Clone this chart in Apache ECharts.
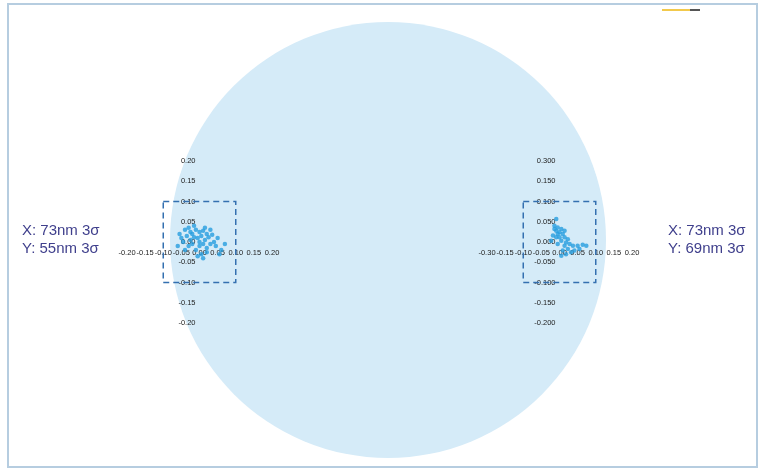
<!DOCTYPE html>
<html>
<head>
<meta charset="utf-8">
<script src="https://cdn.jsdelivr.net/npm/echarts@6/dist/echarts.min.js"></script>
<style>html,body{margin:0;padding:0;background:#fff;}#c{width:765px;height:475px;}</style>
</head>
<body>
<div id="c"></div>
<script>
// ---- data ----
var leftXTicks = ['-0.20','-0.15','-0.10','-0.05','0.00','0.05','0.10','0.15','0.20'];
var leftYTicks = ['-0.20','-0.15','-0.10','-0.05','0.00','0.05','0.10','0.15','0.20'];
var rightXTicks = ['-0.30','-0.15','-0.10','-0.05','0.00','0.05','0.10','0.15','0.20'];
var rightYTicks = ['-0.200','-0.150','-0.100','-0.050','0.000','0.050','0.100','0.150','0.300'];
var leftPoints = [
  [-0.04,0.03],[-0.03,0.035],[-0.02,0.02],[-0.01,0.03],[0.0,0.025],[0.01,0.028],[0.02,0.02],
  [-0.05,0.01],[-0.045,0.0],[-0.035,0.015],[-0.025,0.005],[-0.015,0.012],[-0.005,0.01],
  [0.005,0.015],[0.015,0.005],[0.025,0.012],[0.035,0.018],[0.05,0.01],[0.03,-0.005],
  [0.045,-0.01],[0.06,-0.02],[0.02,-0.015],[0.0,-0.01],[-0.01,-0.02],[0.005,-0.03],
  [-0.005,-0.035],[0.01,-0.04],[-0.02,-0.005],[-0.03,-0.01],[-0.06,-0.01],[-0.055,0.02],
  [0.015,0.035],[-0.015,0.04],[0.0,0.0],[0.01,-0.005],[-0.04,-0.02],[0.03,0.03],
  [0.04,0.0],[0.07,-0.005],[-0.025,0.025],[0.02,-0.025],[0.055,-0.03]
];
var rightPoints = [
  [-0.009,0.057],[-0.014,0.040],[-0.005,0.036],[0.005,0.032],[-0.009,0.028],[0.0,0.024],
  [0.009,0.020],[-0.018,0.016],[-0.009,0.012],[0.0,0.012],[0.014,0.012],[0.005,0.003],
  [0.018,-0.001],[0.028,-0.005],[0.014,-0.009],[0.037,-0.009],[0.05,-0.009],[0.064,-0.007],
  [0.074,-0.009],[0.023,-0.017],[0.009,-0.021],[0.018,-0.030],[0.032,-0.025],[0.005,-0.034],
  [-0.023,0.003],[-0.005,0.02],[0.014,0.028],[-0.014,0.032],[0.023,0.007],[0.041,-0.021],
  [-0.005,-0.005],[0.055,-0.017]
];
var wafer = [{name:'wafer', value:1}];
var boxHalf = 0.1;
var leftText = ['X: 73nm 3σ','Y: 55nm 3σ'];
var rightText = ['X: 73nm 3σ','Y: 69nm 3σ'];

function fmt(arr){ return function(v){ var i=Math.round((v+0.2)/0.05); return arr[i]!==undefined?arr[i]:''; }; }
function xAx(idx, labels){
  return {type:'value', gridIndex:idx, min:-0.2, max:0.2, interval:0.05, position:'bottom', offset:-81,
    axisLine:{show:false, onZero:false},
    axisTick:{show:false}, splitLine:{show:false},
    axisLabel:{formatter:fmt(labels), fontSize:7.5, color:'#222', margin:7, fontFamily:'Liberation Sans', showMinLabel:true, showMaxLabel:true}};
}
function yAx(idx, labels){
  return {type:'value', gridIndex:idx, min:-0.2, max:0.2, interval:0.05, position:'left', offset:-72.5,
    axisLine:{show:false, onZero:false},
    axisTick:{show:false}, splitLine:{show:false},
    axisLabel:{formatter:fmt(labels), fontSize:7.5, color:'#222', margin:4, fontFamily:'Liberation Sans', showMinLabel:true, showMaxLabel:true}};
}
function box(){
  return {silent:true, itemStyle:{color:'rgba(0,0,0,0)', borderColor:'#3470b0', borderWidth:1.5, borderType:[6,4]},
    data:[[{coord:[-boxHalf,boxHalf]},{coord:[boxHalf,-boxHalf]}]]};
}
var txtStyle = {fill:'#3f3f8c', font:'15px "Liberation Sans", Arial'};
var chart = echarts.init(document.getElementById('c'), null, {renderer:'canvas'});
chart.setOption({
  animation:false,
  backgroundColor:'#fff',
  grid:[
    {left:127, top:161, width:145, height:162},
    {left:487, top:161, width:145, height:162}
  ],
  xAxis:[xAx(0,leftXTicks), xAx(1,rightXTicks)],
  yAxis:[yAx(0,leftYTicks), yAx(1,rightYTicks)],
  series:[
    {type:'pie', center:[388,240], radius:218, silent:true, z:0, label:{show:false}, labelLine:{show:false},
     itemStyle:{color:'#d5ebf8'}, data:wafer},
    {type:'scatter', xAxisIndex:0, yAxisIndex:0, symbolSize:4.5, z:5, itemStyle:{color:'#279ddf'}, data:leftPoints, markArea:box()},
    {type:'scatter', xAxisIndex:1, yAxisIndex:1, symbolSize:4.5, z:5, itemStyle:{color:'#279ddf'}, data:rightPoints, markArea:box()}
  ],
  graphic:[
    {type:'rect', shape:{x:8,y:4,width:749,height:463}, style:{fill:null, stroke:'#b6cde0', lineWidth:2}, z:100},
    {type:'text', left:22, top:223, style:Object.assign({text:leftText[0]}, txtStyle)},
    {type:'text', left:22, top:241, style:Object.assign({text:leftText[1]}, txtStyle)},
    {type:'text', left:668, top:223, style:Object.assign({text:rightText[0]}, txtStyle)},
    {type:'text', left:668, top:241, style:Object.assign({text:rightText[1]}, txtStyle)},
    {type:'line', shape:{x1:662,y1:10,x2:690,y2:10}, style:{stroke:'#f2c94c', lineWidth:2}},
    {type:'line', shape:{x1:690,y1:10,x2:700,y2:10}, style:{stroke:'#555', lineWidth:2}}
  ]
});
</script>
</body>
</html>
